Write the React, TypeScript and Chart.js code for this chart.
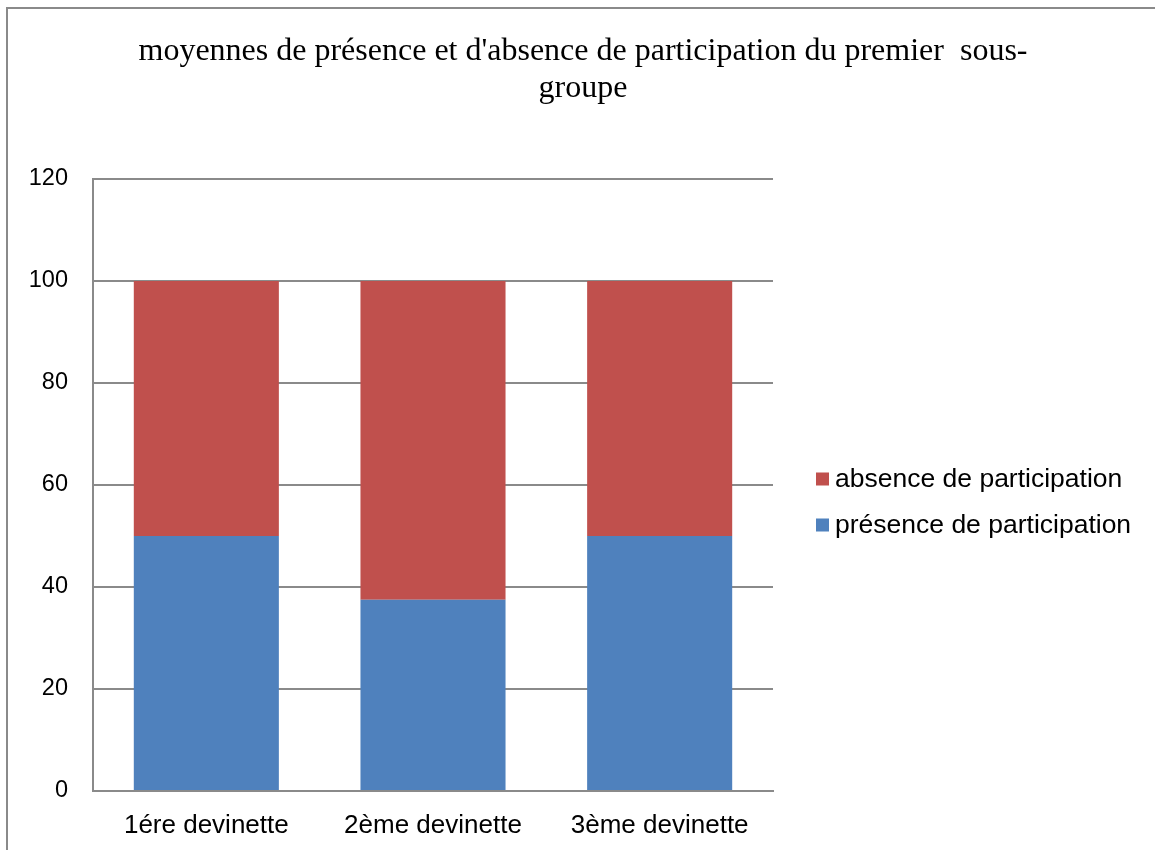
import React, { useEffect, useRef } from "react";
import { Chart, registerables } from "chart.js";

Chart.register(...registerables);

const categories = ["1ére devinette", "2ème devinette", "3ème devinette"];
const presence = [50, 37.5, 50];
const absence = [50, 62.5, 50];
const titleLines = [
  "moyennes de présence et d'absence de participation du premier  sous-",
  "groupe",
];
const seriesNames = ["présence de participation", "absence de participation"];
const yMax = 120;
const yStep = 20;

const SANS = "'Liberation Sans', Arial, sans-serif";
const SERIF = "'Liberation Serif', 'Times New Roman', serif";

const overlayPlugin = {
  id: "overlay",
  afterDraw(chart: any) {
    const ctx = chart.ctx;
    ctx.save();
    // title
    ctx.fillStyle = "#000";
    ctx.font = `32px ${SERIF}`;
    ctx.textAlign = "center";
    ctx.textBaseline = "alphabetic";
    titleLines.forEach((t, i) => ctx.fillText(t, 583, 60 + i * 37));
    // legend (reverse order as in stacked legend)
    const ds = chart.data.datasets.slice().reverse();
    ctx.font = `26.5px ${SANS}`;
    ctx.textAlign = "left";
    ctx.textBaseline = "middle";
    ds.forEach((d: any, i: number) => {
      const cy = 479 + i * 46;
      ctx.fillStyle = d.backgroundColor;
      ctx.fillRect(816, cy - 6.5, 13, 13);
      ctx.fillStyle = "#000";
      ctx.fillText(d.label, 835, cy + 1);
    });
    ctx.restore();
  },
};

export default function App() {
  const ref = useRef<HTMLCanvasElement>(null);
  useEffect(() => {
    document.body.style.margin = "0";
    const chart = new Chart(ref.current!, {
      type: "bar",
      data: {
        labels: categories,
        datasets: [
          {
            label: seriesNames[0],
            data: presence,
            backgroundColor: "#4F81BD",
            borderWidth: 0,
            categoryPercentage: 0.64,
            barPercentage: 1,
          },
          {
            label: seriesNames[1],
            data: absence,
            backgroundColor: "#C0504D",
            borderWidth: 0,
            categoryPercentage: 0.64,
            barPercentage: 1,
          },
        ],
      },
      options: {
        animation: false,
        responsive: false,
        layout: { padding: { top: 179, right: 382, bottom: 0, left: 0 } },
        plugins: {
          legend: { display: false },
          title: { display: false },
          tooltip: { enabled: false },
        },
        scales: {
          x: {
            stacked: true,
            grid: { display: false, drawTicks: false },
            border: { display: true, color: "#8a8a8a", width: 2 },
            ticks: {
              color: "#000",
              font: { family: SANS, size: 26 },
              padding: 19,
              maxRotation: 0,
            },
            afterFit(scale: any) {
              scale.height = 59;
            },
          },
          y: {
            stacked: true,
            min: 0,
            max: yMax,
            grid: { color: "#8a8a8a", lineWidth: 2, drawTicks: false },
            border: { display: true, color: "#8a8a8a", width: 2 },
            ticks: {
              stepSize: yStep,
              color: "#000",
              font: { family: SANS, size: 23.5 },
              padding: 25,
            },
            afterFit(scale: any) {
              scale.width = 93;
            },
          },
        },
      },
      plugins: [overlayPlugin],
    });
    return () => chart.destroy();
  }, []);
  return (
    <div style={{ position: "relative", width: 1155, height: 850, background: "#fff" }}>
      <canvas ref={ref} width={1155} height={850} style={{ display: "block" }} />
      <div
        style={{
          position: "absolute",
          left: 6,
          top: 7,
          width: 1200,
          height: 900,
          borderLeft: "2px solid #8a8a8a",
          borderTop: "2px solid #8a8a8a",
          pointerEvents: "none",
        }}
      />
    </div>
  );
}
